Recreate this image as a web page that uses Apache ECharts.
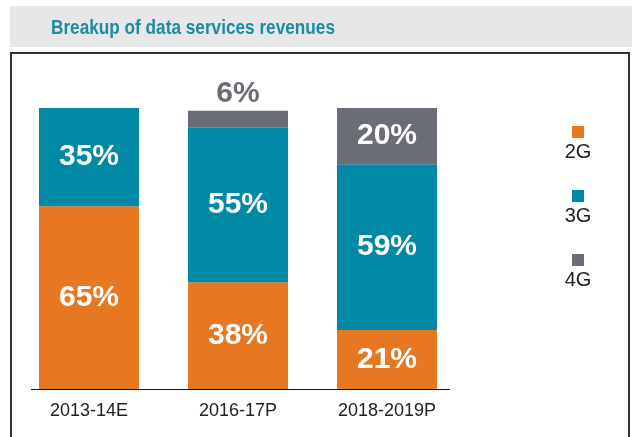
<!DOCTYPE html>
<html>
<head>
<meta charset="utf-8">
<script src="https://cdn.jsdelivr.net/npm/echarts@6/dist/echarts.min.js"></script>
<style>
  html, body { margin: 0; padding: 0; background: #fff; }
  #chart { width: 632px; height: 437px; }
</style>
</head>
<body>
<div id="chart"></div>
<script>
var titleText = 'Breakup of data services revenues';
var categories = ['2013-14E', '2016-17P', '2018-2019P'];
var seriesNames = ['2G', '3G', '4G'];
var share2G = [65, 38, 21];
var share3G = [35, 55, 59];
var share4G = [null, 6, 20];
var colors = ['#e87722', '#0089a4', '#6a6d75'];

var font = '"Liberation Sans", Arial, sans-serif';

// small slices get their label above the bar, in the bar colour
function toItems (values, color) {
    return values.map(function (v) {
        if (v === null) return null;
        if (v < 10) {
            return { value: v, label: { position: 'top', color: color, distance: 2 } };
        }
        return v;
    });
}

var allValues = [share2G, share3G, share4G];
var series = seriesNames.map(function (name, i) {
    return {
        name: name,
        type: 'bar',
        stack: 'total',
        barWidth: 100,
        itemStyle: { color: colors[i] },
        label: {
            show: true,
            position: 'inside',
            color: '#fff',
            fontFamily: font,
            fontWeight: 'bold',
            fontSize: 30,
            formatter: '{c}%'
        },
        data: toItems(allValues[i], colors[i])
    };
});

// legend labels sit under the squares
var legendTexts = seriesNames.map(function (name, i) {
    return {
        type: 'text',
        x: 578,
        y: 152.5 + i * 64,
        style: { text: name, fill: '#222', font: '20px ' + font, align: 'center', verticalAlign: 'middle' }
    };
});

var chart = echarts.init(document.getElementById('chart'));
chart.setOption({
    animation: false,
    backgroundColor: '#fff',
    legend: {
        orient: 'vertical',
        left: 572,
        top: 126,
        padding: 0,
        itemWidth: 12,
        itemHeight: 12,
        itemGap: 52,
        icon: 'rect',
        formatter: function () { return ''; },
        data: seriesNames
    },
    grid: { left: 14.5, top: 108, width: 447, height: 281 },
    xAxis: {
        type: 'category',
        data: categories,
        axisLine: { show: false },
        axisTick: { show: false },
        axisLabel: { color: '#222', fontFamily: font, fontSize: 18, margin: 13 }
    },
    yAxis: { type: 'value', min: 0, max: 100, show: false },
    graphic: [
        { type: 'rect', z: -1, shape: { x: 10, y: 6, width: 622, height: 41 }, style: { fill: '#e6e7e9' } },
        { type: 'rect', z: -1, shape: { x: 11, y: 53, width: 618, height: 400 }, style: { fill: 'none', stroke: '#333', lineWidth: 2 } },
        { type: 'line', shape: { x1: 31, y1: 389.5, x2: 450, y2: 389.5 }, style: { stroke: '#111', lineWidth: 1.2 } },
        {
            type: 'text', x: 51, y: 28.5, scaleX: 0.86,
            style: { text: titleText, fill: '#1a8ba1', font: 'bold 20px ' + font, verticalAlign: 'middle' }
        }
    ].concat(legendTexts),
    series: series
});
</script>
</body>
</html>
